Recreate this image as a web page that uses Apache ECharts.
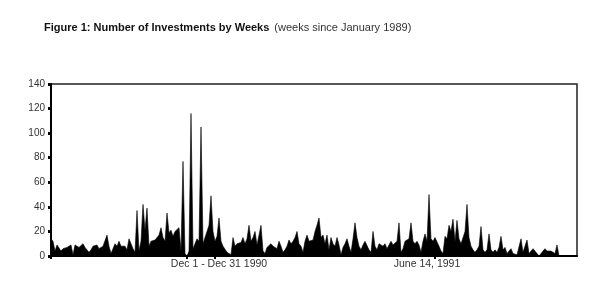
<!DOCTYPE html>
<html>
<head>
<meta charset="utf-8">
<script src="https://cdn.jsdelivr.net/npm/echarts@6/dist/echarts.min.js"></script>
<style>
  html, body { margin: 0; padding: 0; background: #fff; }
  #chart { width: 616px; height: 301px; }
</style>
</head>
<body>
<div id="chart"></div>
<script>
// investments per week
var counts = [
  14, 12, 4, 9, 8, 4, 6, 5, 7, 6, 9, 1, 9, 8, 7, 8, 10, 7, 6, 3,
  5, 8, 7, 9, 6, 7, 8, 9, 17, 8, 2, 1, 10, 8, 12, 8, 9, 8, 5, 14,
  14, 6, 3, 37, 4, 12, 42, 21, 39, 8, 12, 11, 13, 12, 17, 23, 15, 12, 35, 19,
  21, 16, 20, 19, 23, 4, 77, 2, 0, 4, 116, 6, 10, 14, 12, 105, 10, 15, 20, 25,
  49, 20, 12, 16, 31, 12, 8, 7, 3, 2, 1, 15, 8, 10, 9, 11, 15, 10, 14, 25,
  12, 15, 20, 9, 8, 25, 4, 2, 7, 6, 10, 8, 7, 6, 12, 8, 3, 5, 8, 13,
  10, 12, 15, 20, 10, 8, 3, 12, 17, 12, 11, 13, 20, 25, 31, 15, 17, 10, 17, 5,
  15, 10, 8, 15, 9, 1, 7, 10, 14, 8, 3, 14, 27, 15, 8, 5, 9, 12, 12, 5,
  3, 20, 8, 5, 10, 9, 8, 10, 6, 7, 12, 9, 10, 12, 27, 3, 6, 12, 13, 14,
  27, 12, 10, 12, 9, 3, 12, 18, 12, 50, 14, 12, 15, 15, 8, 4, 2, 16, 14, 25,
  20, 30, 12, 29, 14, 10, 10, 20, 42, 15, 8, 5, 3, 5, 8, 24, 5, 3, 5, 18,
  5, 3, 5, 3, 7, 16, 5, 7, 2, 3, 6, 2, 2, 1, 0, 14, 3, 2, 13, 2,
  3, 6, 4, 3, 0, 2, 4, 6, 4, 5, 4, 4, 2, 9, 0, 0, 0, 0, 0, 1,
  0, 0, 0, 0
];
var weeks = counts.map(function (v, i) { return i + 1; });

// x axis: where the ticks sit and which weeks carry a label
var tickWeeks = [0, 68, 82, 192];
var labelWeeks = [84, 188];
var labelTexts = ['Dec 1 - Dec 31 1990', 'June 14, 1991'];

var yTicks = { min: 0, max: 140, step: 20 };

var chart = echarts.init(document.getElementById('chart'));

var option = {
    animation: false,
    backgroundColor: '#fff',
    title: {
        left: 44,
        top: 19,
        padding: 0,
        text: '{b|Figure 1: Number of Investments by Weeks} {n|(weeks since January 1989)}',
        textStyle: {
            fontWeight: 'normal',
            rich: {
                b: { fontFamily: 'Liberation Sans', fontSize: 11, fontWeight: 'bold', color: '#111' },
                n: { fontFamily: 'Liberation Sans', fontSize: 11, fontWeight: 'normal', color: '#333' }
            }
        }
    },
    grid: {
        left: 51,
        right: 39,
        top: 84,
        bottom: 45,
        show: true,
        borderColor: '#222',
        borderWidth: 1.5
    },
    xAxis: {
        type: 'category',
        data: weeks,
        boundaryGap: false,
        axisLine: { lineStyle: { color: '#000', width: 2 } },
        axisTick: {
            interval: function (idx) { return tickWeeks.indexOf(idx) > -1; },
            length: 3,
            lineStyle: { color: '#000', width: 2 }
        },
        axisLabel: {
            interval: function (idx) { return labelWeeks.indexOf(idx) > -1; },
            formatter: function (val, idx) { return labelTexts[labelWeeks.indexOf(idx)]; },
            fontFamily: 'Liberation Sans',
            fontSize: 10.5,
            color: '#333',
            margin: 3
        },
        splitLine: { show: false }
    },
    yAxis: {
        type: 'value',
        min: yTicks.min,
        max: yTicks.max,
        interval: yTicks.step,
        axisLine: { show: true, lineStyle: { color: '#000', width: 2 } },
        axisTick: { show: true, length: 3, lineStyle: { color: '#000', width: 3 } },
        axisLabel: {
            fontFamily: 'Liberation Sans',
            fontSize: 10,
            color: '#333',
            margin: 6
        },
        splitLine: { show: false }
    },
    series: [{
        type: 'line',
        data: counts,
        showSymbol: false,
        lineStyle: { color: '#000', width: 0.6 },
        areaStyle: { color: '#000', opacity: 1 },
        itemStyle: { color: '#000' }
    }]
};

chart.setOption(option);
</script>
</body>
</html>
